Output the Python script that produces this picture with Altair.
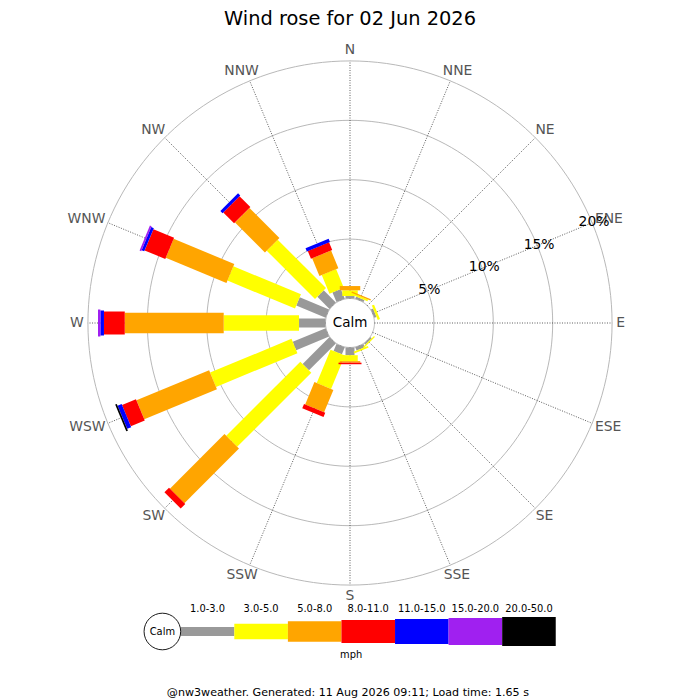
import math
import altair as alt
import pandas as pd

# ---------------- data ----------------
directions = ["N", "NNE", "NE", "ENE", "E", "ESE", "SE", "SSE",
              "S", "SSW", "SW", "WSW", "W", "WNW", "NW", "NNW"]
dir_angles = [0, 22.5, 45, 67.5, 90, 112.5, 135, 157.5,
              180, 202.5, 225, 247.5, 270, 292.5, 315, 337.5]

classes = ["1.0-3.0", "3.0-5.0", "5.0-8.0", "8.0-11.0",
           "11.0-15.0", "15.0-20.0", "20.0-50.0"]

# frequency (%) per direction for each speed class (mph)
pct_1_3 = [0.21, 0.20, 0, 0.20, 0, 0, 0.15, 0.30, 0.65, 0.64, 3.20, 3.00, 2.23, 2.68, 1.45, 0.88]
pct_3_5 = [0.48, 0.15, 0, 0.20, 0, 0, 0.10, 0.15, 0.50, 3.04, 8.82, 7.42, 6.34, 6.16, 5.75, 1.70]
pct_5_8 = [0.36, 0.10, 0, 0, 0, 0, 0, 0, 0.13, 2.04, 6.50, 6.62, 8.33, 5.53, 3.57, 1.61]
pct_8_11 = [0, 0, 0, 0, 0, 0, 0, 0, 0.13, 0.38, 0.54, 1.27, 1.75, 1.88, 1.29, 0.70]
pct_11_15 = [0, 0, 0, 0, 0, 0, 0, 0, 0, 0, 0, 0.37, 0.30, 0.24, 0.26, 0.29]
pct_15_20 = [0, 0, 0, 0, 0, 0, 0, 0, 0, 0, 0, 0, 0.20, 0.15, 0, 0]
pct_20_50 = [0, 0, 0, 0, 0, 0, 0, 0, 0, 0, 0, 0.15, 0, 0, 0, 0]
speed_pct = [pct_1_3, pct_3_5, pct_5_8, pct_8_11, pct_11_15, pct_15_20, pct_20_50]

ring_pcts = [5, 10, 15, 20]
ring_labels = ["5%", "10%", "15%", "20%"]

# ---------------- styles / layout ----------------
class_colors = ["#999999", "#ffff00", "#ffa500", "#ff0000", "#0000ff", "#a020f0", "#000000"]
class_widths = [9, 15.5, 20.5, 23, 25, 27, 29]

FONT = "DejaVu Sans"
K = 11.88          # pixels per percent
CALM = 2.06        # calm-circle radius, in percent units
W = 684
TOP = 28           # page y of rose view top (after title)
BOT = 601          # page y of rose view bottom
CY = 322           # page y of rose centre
HA = BOT - TOP
DIR_FS = 13.9

XS = alt.Scale(domain=[-W / 2 / K, W / 2 / K], nice=False, zero=False)
YS = alt.Scale(domain=[-(BOT - CY) / K, (CY - TOP) / K], nice=False, zero=False)

# ---------------- tables ----------------
bar_rows = []
for i, d in enumerate(directions):
    cum = 0.0
    for j, cls in enumerate(classes):
        v = speed_pct[j][i]
        if v > 0:
            bar_rows.append(dict(dir=d, ang=dir_angles[i], cls=cls, r0=cum, r1=cum + v,
                                 w=class_widths[j], ordr=j))
            cum += v
bars = pd.DataFrame(bar_rows)

ring_rows = []
for r in [0] + ring_pcts:
    for a in range(0, 362, 2):
        ring_rows.append(dict(ring=r, a=a))
rings = pd.DataFrame(ring_rows)

# direction-label placement: anchor on the ray, text box pushed outward by
# its half-width horizontally and half-height vertically
char_em = {"N": 0.748, "E": 0.632, "S": 0.635, "W": 0.989}
LAB_R = 266.2
LAB_HH = 6.5
rx, ry = [], []
for d in directions:
    hw = sum(char_em[c] for c in d) * DIR_FS / 2
    rx.append((LAB_R + hw) / K)
    ry.append((LAB_R + LAB_HH) / K)
dirs = pd.DataFrame(dict(dir=directions, ang=dir_angles, rx=rx, ry=ry))
rlab = pd.DataFrame(dict(ring=ring_pcts, label=ring_labels))


def polar(r_expr, a_expr):
    return (f"({CALM}+({r_expr}))*sin(({a_expr})*PI/180)",
            f"({CALM}+({r_expr}))*cos(({a_expr})*PI/180)")


xr, yr = polar("datum.ring", "datum.a")
ring_layer = alt.Chart(rings).transform_calculate(px=xr, py=yr).mark_line(
    color="#b0b0b0", strokeWidth=0.9
).encode(
    x=alt.X("px:Q", scale=XS, axis=None),
    y=alt.Y("py:Q", scale=YS, axis=None),
    detail="ring:N",
    order="a:Q",
)

sx0, sy0 = polar("0", "datum.ang")
sx1, sy1 = polar("20", "datum.ang")
spoke_layer = alt.Chart(dirs).transform_calculate(
    x0=sx0, y0=sy0, x1=sx1, y1=sy1
).mark_rule(color="#333333", strokeWidth=0.8, strokeDash=[1, 1.5]).encode(
    x=alt.X("x0:Q", scale=XS, axis=None),
    y=alt.Y("y0:Q", scale=YS, axis=None),
    x2="x1:Q",
    y2="y1:Q",
)

bx0, by0 = polar("datum.r0", "datum.ang")
bx1, by1 = polar("datum.r1", "datum.ang")
bar_layer = alt.Chart(bars).transform_calculate(
    x0=bx0, y0=by0, x1=bx1, y1=by1
).mark_rule(strokeCap="butt").encode(
    x=alt.X("x0:Q", scale=XS, axis=None),
    y=alt.Y("y0:Q", scale=YS, axis=None),
    x2="x1:Q",
    y2="y1:Q",
    color=alt.Color("cls:N", scale=alt.Scale(domain=classes, range=class_colors), legend=None),
    size=alt.Size("w:Q", scale=None, legend=None),
    order="ordr:Q",
)

dir_label_layer = alt.Chart(dirs).transform_calculate(
    lx="datum.rx*sin(datum.ang*PI/180)",
    ly="datum.ry*cos(datum.ang*PI/180)",
).mark_text(
    font=FONT, fontSize=DIR_FS, color="#555555", align="center", baseline="middle"
).encode(
    x=alt.X("lx:Q", scale=XS, axis=None),
    y=alt.Y("ly:Q", scale=YS, axis=None),
    text="dir:N",
)

px_, py_ = polar("datum.ring+0.17", "67.5")
ring_label_layer = alt.Chart(rlab).transform_calculate(lx=px_, ly=py_).mark_text(
    font=FONT, fontSize=13.9, color="#000000", align="center", baseline="middle"
).encode(
    x=alt.X("lx:Q", scale=XS, axis=None),
    y=alt.Y("ly:Q", scale=YS, axis=None),
    text="label:N",
)

calm_text = alt.Chart(pd.DataFrame(dict(t=["Calm"], x=[0], y=[0]))).mark_text(
    font=FONT, fontSize=13.5, color="#000000", align="center", baseline="middle"
).encode(
    x=alt.X("x:Q", scale=XS, axis=None),
    y=alt.Y("y:Q", scale=YS, axis=None),
    text="t:N",
)

rose = alt.layer(
    ring_layer, spoke_layer, bar_layer, dir_label_layer, ring_label_layer, calm_text
).properties(width=W, height=HA)

# ---------------- legend strip ----------------
LU = 53.57                 # px per legend box
L0 = 144 + 0.686 * LU      # page x where first box starts
LEG_TOP = BOT              # page y of legend view top
LEG_BOT = 698
BAR_Y = 629.5              # page y of legend bar centre
xc = (350 - L0) / LU       # data x at view centre (page x 350)
XB = alt.Scale(domain=[xc - (W / 2) / LU, xc + (W / 2) / LU], nice=False, zero=False)
YB = alt.Scale(domain=[-(LEG_BOT - BAR_Y), BAR_Y - LEG_TOP], nice=False, zero=False)
HB = LEG_BOT - LEG_TOP

leg = pd.DataFrame(dict(cls=classes, idx=list(range(len(classes))),
                        w=class_widths))

leg_bars = alt.Chart(leg).transform_calculate(
    i0="datum.idx", i1="datum.idx+1", yy="0"
).mark_rule(strokeCap="butt").encode(
    x=alt.X("i0:Q", scale=XB, axis=None),
    x2="i1:Q",
    y=alt.Y("yy:Q", scale=YB, axis=None),
    color=alt.Color("cls:N", scale=alt.Scale(domain=classes, range=class_colors), legend=None),
    size=alt.Size("w:Q", scale=None, legend=None),
)

leg_labels = alt.Chart(leg).transform_calculate(
    ix="datum.idx+0.5", yy="22.8"
).mark_text(font=FONT, fontSize=9.9, color="#000000", align="center", baseline="middle").encode(
    x=alt.X("ix:Q", scale=XB, axis=None),
    y=alt.Y("yy:Q", scale=YB, axis=None),
    text="cls:N",
)

misc = pd.DataFrame(dict(t=["Calm", "mph", "@nw3weather. Generated: 11 Aug 2026 09:11; Load time: 1.65 s"],
                         x=[-0.343, 3.18, 3.12], y=[0, -23.5, -61.5],
                         fs=[9.9, 9.9, 11.1]))

leg_circle = alt.Chart(misc.iloc[:1]).mark_point(
    shape="circle", filled=False, size=1340, color="#000000", strokeWidth=0.9, opacity=1
).encode(
    x=alt.X("x:Q", scale=XB, axis=None),
    y=alt.Y("y:Q", scale=YB, axis=None),
)

leg_text = alt.Chart(misc).mark_text(
    font=FONT, color="#000000", align="center", baseline="middle"
).encode(
    x=alt.X("x:Q", scale=XB, axis=None),
    y=alt.Y("y:Q", scale=YB, axis=None),
    text="t:N",
    size=alt.Size("fs:Q", scale=None, legend=None),
)

legend_strip = alt.layer(leg_bars, leg_labels, leg_circle, leg_text).properties(width=W, height=HB)

chart = alt.vconcat(rose, legend_strip, spacing=0).resolve_scale(
    x="independent", y="independent"
).properties(
    title=alt.TitleParams("Wind rose for 02 Jun 2026", font=FONT, fontSize=19.4,
                          fontWeight="normal", color="#000000", anchor="middle", offset=0),
    padding=0,
).configure_view(stroke=None)

chart.save("out.html", embed_options={"renderer": "svg", "actions": False})
